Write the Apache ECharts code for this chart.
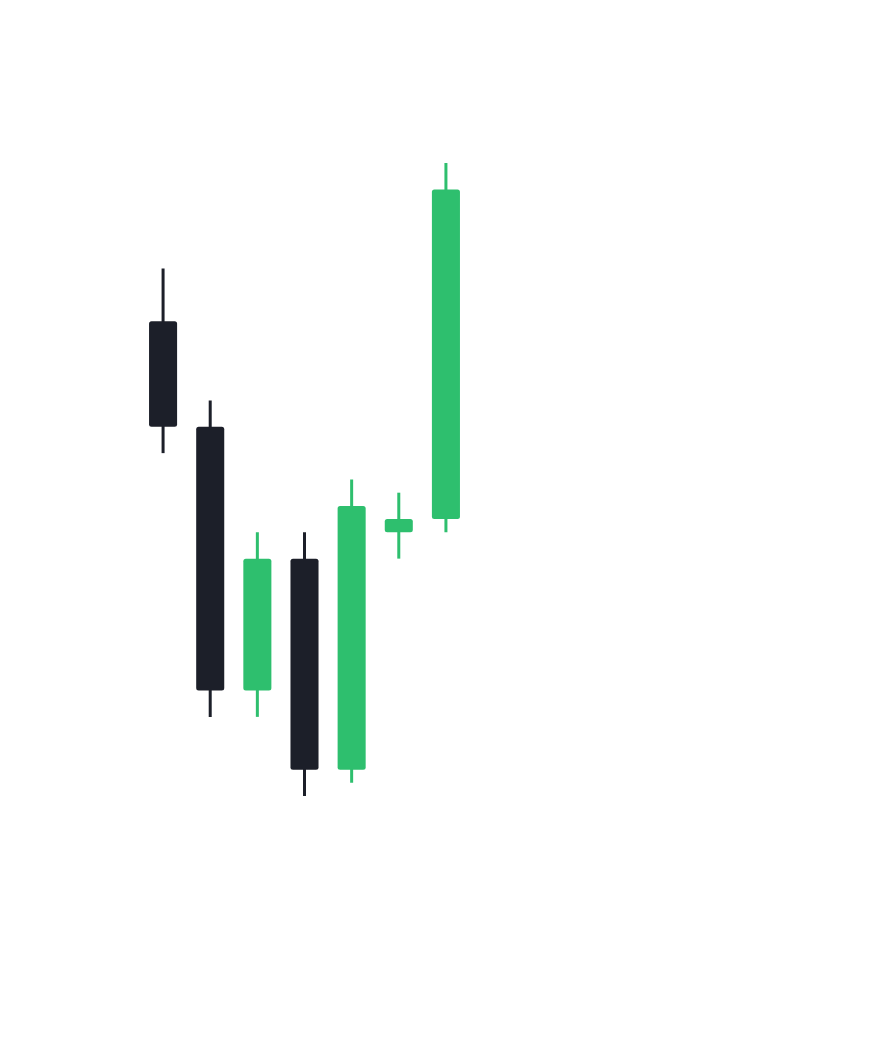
<!DOCTYPE html>
<html>
<head>
<meta charset="utf-8">
<style>
  html, body { margin: 0; padding: 0; background: #ffffff; }
  #chart { width: 880px; height: 1059px; }
</style>
<script src="https://cdn.jsdelivr.net/npm/echarts@6/dist/echarts.min.js"></script>
</head>
<body>
<div id="chart"></div>
<script>
// Data
const categories = ['1', '2', '3', '4', '5', '6', '7'];
const opens  = [18, 14, 4, 9, 1, 10, 10.5];
const closes = [14, 4, 9, 1, 11, 10.5, 23];
const lows   = [13, 3, 3, 0, 0.5, 9, 10];
const highs  = [20, 15, 10, 10, 12, 11.5, 24];

const UP_COLOR = '#2ebf6e';
const DOWN_COLOR = '#1c1f29';

const seriesData = categories.map((c, i) => [i, opens[i], closes[i], lows[i], highs[i]]);

const chart = echarts.init(document.getElementById('chart'), null, { renderer: 'canvas' });

function renderItem(params, api) {
  const idx = api.value(0);
  const o = api.value(1), cl = api.value(2), lo = api.value(3), hi = api.value(4);
  const pO = api.coord([idx, o]);
  const pC = api.coord([idx, cl]);
  const pL = api.coord([idx, lo]);
  const pH = api.coord([idx, hi]);
  const band = api.size([1, 0])[0];
  const w = band * 0.595;
  const x = pO[0];
  const top = Math.min(pO[1], pC[1]);
  const bottom = Math.max(pO[1], pC[1]);
  const color = cl >= o ? UP_COLOR : DOWN_COLOR;
  return {
    type: 'group',
    children: [
      {
        type: 'line',
        shape: { x1: x, y1: pH[1], x2: x, y2: pL[1] },
        style: { stroke: color, lineWidth: 3 }
      },
      {
        type: 'rect',
        shape: { x: x - w / 2, y: top, width: w, height: Math.max(bottom - top, 1), r: 2.5 },
        style: { fill: color }
      }
    ]
  };
}

chart.setOption({
  backgroundColor: '#ffffff',
  animation: false,
  grid: { left: 139.5, width: 330, top: 163, bottom: 263 },
  xAxis: {
    type: 'category',
    data: categories,
    show: false,
    boundaryGap: true
  },
  yAxis: {
    type: 'value',
    min: 0,
    max: 24,
    show: false
  },
  series: [{
    type: 'custom',
    renderItem: renderItem,
    encode: { x: 0, y: [1, 2, 3, 4] },
    data: seriesData
  }]
});
</script>
</body>
</html>
